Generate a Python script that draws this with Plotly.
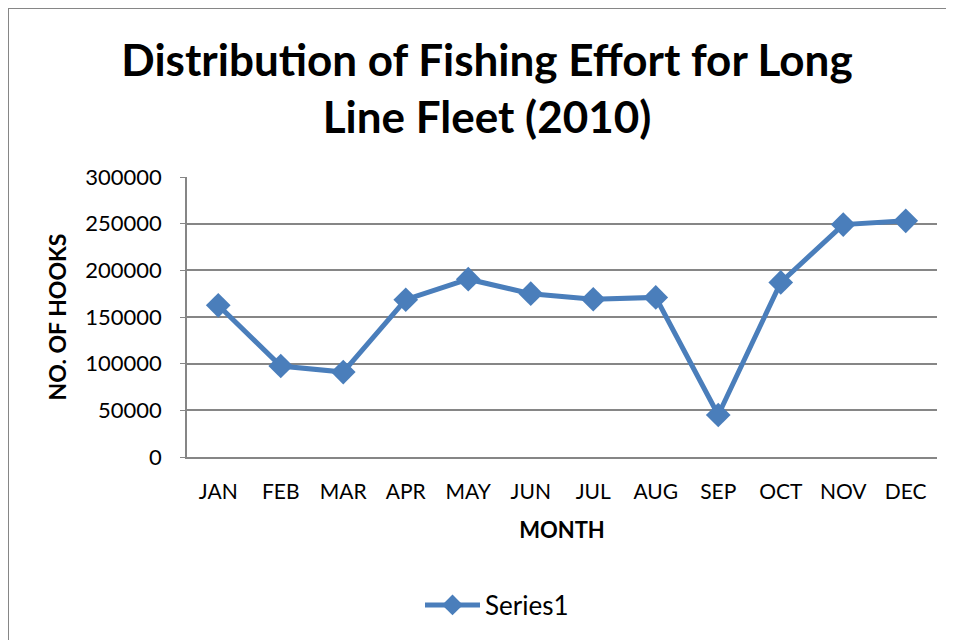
import plotly.graph_objects as go

months = ["JAN", "FEB", "MAR", "APR", "MAY", "JUN", "JUL", "AUG", "SEP", "OCT", "NOV", "DEC"]
hooks = [162500, 97500, 91000, 168500, 190500, 175000, 169000, 171000, 45000, 187000, 249000, 253000]
y_ticks = [0, 50000, 100000, 150000, 200000, 250000, 300000]

FONT = "Lato"
BLUE = "#4A7EBB"
GRAY = "#868686"

fig = go.Figure()
fig.add_trace(go.Scatter(
    x=months, y=hooks, mode="lines+markers", name="Series1",
    line=dict(color=BLUE, width=5),
    marker=dict(symbol="diamond", size=19, color=BLUE),
))

OFF = 8  # page offset of the figure
W, H = 954 - OFF, 640 - OFF
L, R, T, B = 187 - OFF, W - (937 - OFF), 177 - OFF, H - (457 - OFF)
pw, ph = W - L - R, H - T - B

def px_x(x):
    return (x - OFF - L) / pw

def px_y(y):
    return (H - B - (y - OFF)) / ph

fig.update_layout(
    width=W, height=H,
    margin=dict(l=L, r=R, t=T, b=B),
    paper_bgcolor="white", plot_bgcolor="white",
    font=dict(family=FONT, color="black", size=21),
    title=dict(
        text="<b>Distribution of Fishing Effort for Long<br>Line Fleet (2010)</b>",
        font=dict(family=FONT, size=44, color="black"),
        x=px_x(487), xref="paper", xanchor="center",
        y=1 - 68 / H, yref="container", yanchor="middle",
    ),
    showlegend=True,
    legend=dict(
        orientation="h", x=px_x(497), xanchor="center",
        y=px_y(605), yanchor="middle",
        font=dict(family=FONT, size=26, color="black"),
        itemwidth=55,
    ),
    xaxis=dict(
        type="category", categoryorder="array", categoryarray=months,
        showgrid=False, showline=True, linecolor=GRAY, linewidth=1.5,
        ticks="", tickfont=dict(family=FONT, size=21), ticklabelstandoff=15,
        title=dict(text="<b>MONTH</b>", font=dict(family=FONT, size=22), standoff=21),
        range=[-0.5, 11.5], fixedrange=True,
    ),
    yaxis=dict(
        range=[0, 300000], tickvals=y_ticks, ticktext=[str(v) for v in y_ticks],
        showgrid=True, gridcolor=GRAY, gridwidth=1.5,
        showline=True, linecolor=GRAY, linewidth=1.5,
        ticks="outside", ticklen=5, tickcolor=GRAY,
        tickfont=dict(family=FONT, size=22), ticklabelstandoff=14,
        title=dict(text="<b>NO. OF HOOKS</b>", font=dict(family=FONT, size=23), standoff=12),
        zeroline=False, fixedrange=True,
    ),
)

# outer chart border (top and left edges visible in the crop)
fig.add_shape(
    type="line", xref="paper", yref="paper",
    x0=px_x(OFF - 1), x1=px_x(1000), y0=px_y(OFF), y1=px_y(OFF),
    line=dict(color=GRAY, width=2), layer="below",
)
fig.add_shape(
    type="line", xref="paper", yref="paper",
    x0=px_x(OFF), x1=px_x(OFF), y0=px_y(OFF), y1=px_y(700),
    line=dict(color=GRAY, width=2), layer="below",
)

fig.write_html("out.html")
